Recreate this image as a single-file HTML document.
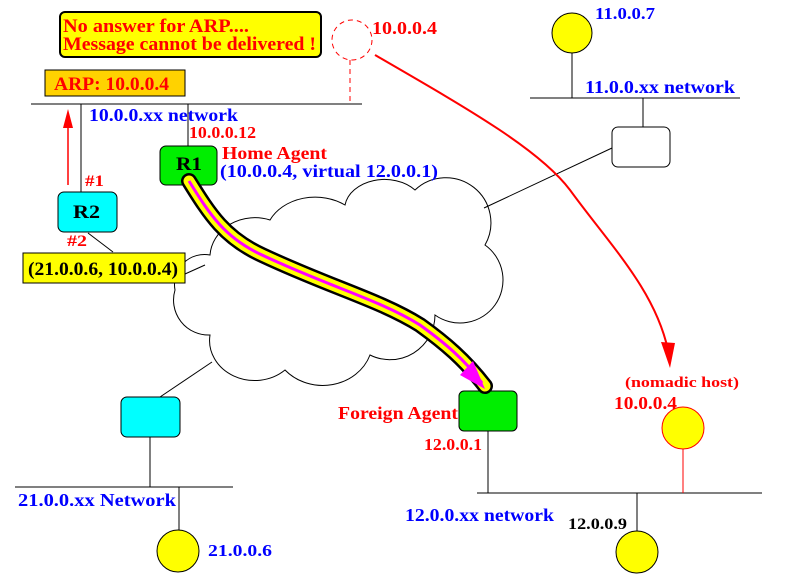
<!DOCTYPE html>
<html><head><meta charset="utf-8"><style>
html,body{margin:0;padding:0;background:#fff;}
svg{display:block;}
text{font-family:"Liberation Serif",serif;font-weight:bold;}
</style></head><body>
<svg width="787" height="583" viewBox="0 0 787 583" xmlns="http://www.w3.org/2000/svg">
<rect x="60" y="12" width="261" height="45" rx="5" fill="#ffff00" stroke="#000" stroke-width="2"/>
<text x="63" y="32" font-size="19" fill="#ff0000" textLength="186" lengthAdjust="spacingAndGlyphs">No answer for ARP....</text>
<text x="63" y="50" font-size="19" fill="#ff0000" textLength="253" lengthAdjust="spacingAndGlyphs">Message cannot be delivered !</text>
<circle cx="352" cy="40" r="20" fill="none" stroke="#ff0000" stroke-dasharray="5,4"/>
<text x="372" y="34" font-size="18" fill="#ff0000" textLength="65" lengthAdjust="spacingAndGlyphs">10.0.0.4</text>
<line x1="350" y1="60" x2="350" y2="104" stroke="#ff0000" stroke-dasharray="5,4"/>
<rect x="45" y="70" width="140" height="26" fill="#ffd200" stroke="#000"/>
<text x="54" y="90" font-size="19" fill="#ff0000" textLength="115" lengthAdjust="spacingAndGlyphs">ARP: 10.0.0.4</text>
<line x1="31" y1="104" x2="362" y2="104" stroke="#000"/>
<text x="89" y="121" font-size="18" fill="#0000ff" textLength="149" lengthAdjust="spacingAndGlyphs">10.0.0.xx network</text>
<line x1="81" y1="104" x2="81" y2="193" stroke="#000"/>
<line x1="68" y1="185" x2="68" y2="122" stroke="#ff0000" stroke-width="1.5"/>
<polygon points="68,109 63,128 73,128" fill="#ff0000"/>
<line x1="188" y1="104" x2="188" y2="146" stroke="#000"/>
<text x="189" y="138" font-size="17" fill="#ff0000" textLength="67" lengthAdjust="spacingAndGlyphs">10.0.0.12</text>
<path d="M210,255 A45,40 0 0 1 270,220 A50,40 0 0 1 345,205 A40,30 0 0 1 415,190 A45,45 0 0 1 485,245 A40,40 0 0 1 435,315 A45,45 0 0 1 370,355 A50,45 0 0 1 285,370 A45,40 0 0 1 210,335 A35,35 0 0 1 175,290 A30,30 0 0 1 210,255 Z" fill="#fff" stroke="#000"/>
<rect x="160" y="146" width="57" height="39" rx="6" fill="#00ee00" stroke="#000"/>
<text x="176" y="170" font-size="19" fill="#000" textLength="26" lengthAdjust="spacingAndGlyphs">R1</text>
<text x="222" y="159" font-size="18" fill="#ff0000" textLength="105" lengthAdjust="spacingAndGlyphs">Home Agent</text>
<text x="220" y="177" font-size="18" fill="#0000ff" textLength="218" lengthAdjust="spacingAndGlyphs">(10.0.0.4,  virtual 12.0.0.1)</text>
<rect x="58" y="192" width="59" height="40" rx="6" fill="#00ffff" stroke="#000"/>
<text x="73" y="218" font-size="19" fill="#000" textLength="27" lengthAdjust="spacingAndGlyphs">R2</text>
<text x="85" y="186" font-size="16" fill="#ff0000" textLength="19" lengthAdjust="spacingAndGlyphs">#1</text>
<text x="67" y="246" font-size="16" fill="#ff0000" textLength="20" lengthAdjust="spacingAndGlyphs">#2</text>
<line x1="88" y1="233" x2="113" y2="252" stroke="#000"/>
<rect x="23" y="253" width="162" height="30" fill="#ffff00" stroke="#000"/>
<text x="28" y="275" font-size="19" fill="#000" textLength="150" lengthAdjust="spacingAndGlyphs">(21.0.0.6, 10.0.0.4)</text>
<line x1="185" y1="274" x2="205" y2="265" stroke="#000"/>
<circle cx="572" cy="33" r="20" fill="#ffff00" stroke="#000"/>
<text x="595" y="19" font-size="17" fill="#0000ff" textLength="60" lengthAdjust="spacingAndGlyphs">11.0.0.7</text>
<line x1="572" y1="53" x2="572" y2="98" stroke="#000"/>
<line x1="530" y1="98" x2="740" y2="98" stroke="#000"/>
<text x="585" y="93" font-size="18" fill="#0000ff" textLength="150" lengthAdjust="spacingAndGlyphs">11.0.0.xx network</text>
<line x1="643" y1="98" x2="643" y2="127" stroke="#000"/>
<rect x="612" y="127" width="58" height="40" rx="6" fill="#fff" stroke="#000"/>
<line x1="612" y1="148" x2="484" y2="208" stroke="#000"/>
<path d="M375,55 C470,110 540,150 570,190 C610,245 655,290 668,350" fill="none" stroke="#ff0000" stroke-width="2"/>
<polygon points="670,368 661,342 675,343" fill="#ff0000"/>
<line x1="160" y1="397" x2="212" y2="362" stroke="#000"/>
<rect x="121" y="397" width="59" height="40" rx="6" fill="#00ffff" stroke="#000"/>
<line x1="150" y1="437" x2="150" y2="487" stroke="#000"/>
<line x1="15" y1="487" x2="233" y2="487" stroke="#000"/>
<text x="18" y="506" font-size="18" fill="#0000ff" textLength="158" lengthAdjust="spacingAndGlyphs">21.0.0.xx  Network</text>
<line x1="179" y1="487" x2="179" y2="530" stroke="#000"/>
<circle cx="178" cy="551" r="21" fill="#ffff00" stroke="#000"/>
<text x="208" y="556" font-size="17" fill="#0000ff" textLength="64" lengthAdjust="spacingAndGlyphs">21.0.0.6</text>
<rect x="459" y="391" width="58" height="40" rx="5" fill="#00ee00" stroke="#000"/>
<text x="338" y="419" font-size="18" fill="#ff0000" textLength="120" lengthAdjust="spacingAndGlyphs">Foreign Agent</text>
<text x="424" y="450" font-size="17" fill="#ff0000" textLength="58" lengthAdjust="spacingAndGlyphs">12.0.0.1</text>
<line x1="488" y1="431" x2="488" y2="493" stroke="#000"/>
<line x1="477" y1="493" x2="762" y2="493" stroke="#000"/>
<text x="405" y="521" font-size="18" fill="#0000ff" textLength="149" lengthAdjust="spacingAndGlyphs">12.0.0.xx network</text>
<line x1="637" y1="493" x2="637" y2="531" stroke="#000"/>
<circle cx="637" cy="552" r="21" fill="#ffff00" stroke="#000"/>
<text x="568" y="529" font-size="16" fill="#000" textLength="59" lengthAdjust="spacingAndGlyphs">12.0.0.9</text>
<text x="625" y="387" font-size="15" fill="#ff0000" textLength="114" lengthAdjust="spacingAndGlyphs">(nomadic host)</text>
<text x="614" y="409" font-size="18" fill="#ff0000" textLength="63" lengthAdjust="spacingAndGlyphs">10.0.0.4</text>
<circle cx="683" cy="428" r="21" fill="#ffff00" stroke="#ff0000"/>
<line x1="683" y1="449" x2="683" y2="493" stroke="#ff0000"/>
<path d="M189,181 C210,215 225,238 262,255 C330,287 380,300 420,325 C445,343 465,360 485,386" fill="none" stroke="#000" stroke-width="16" stroke-linecap="round"/>
<path d="M189,181 C210,215 225,238 262,255 C330,287 380,300 420,325 C445,343 465,360 485,386" fill="none" stroke="#ffff00" stroke-width="11" stroke-linecap="round"/>
<path d="M189,181 C210,215 225,238 262,255 C330,287 380,300 420,325 C445,343 465,360 482,383" fill="none" stroke="#ff00ff" stroke-width="3"/>
<polygon points="485,389 460,375 473,361" fill="#ff00ff"/>
</svg>
</body></html>
